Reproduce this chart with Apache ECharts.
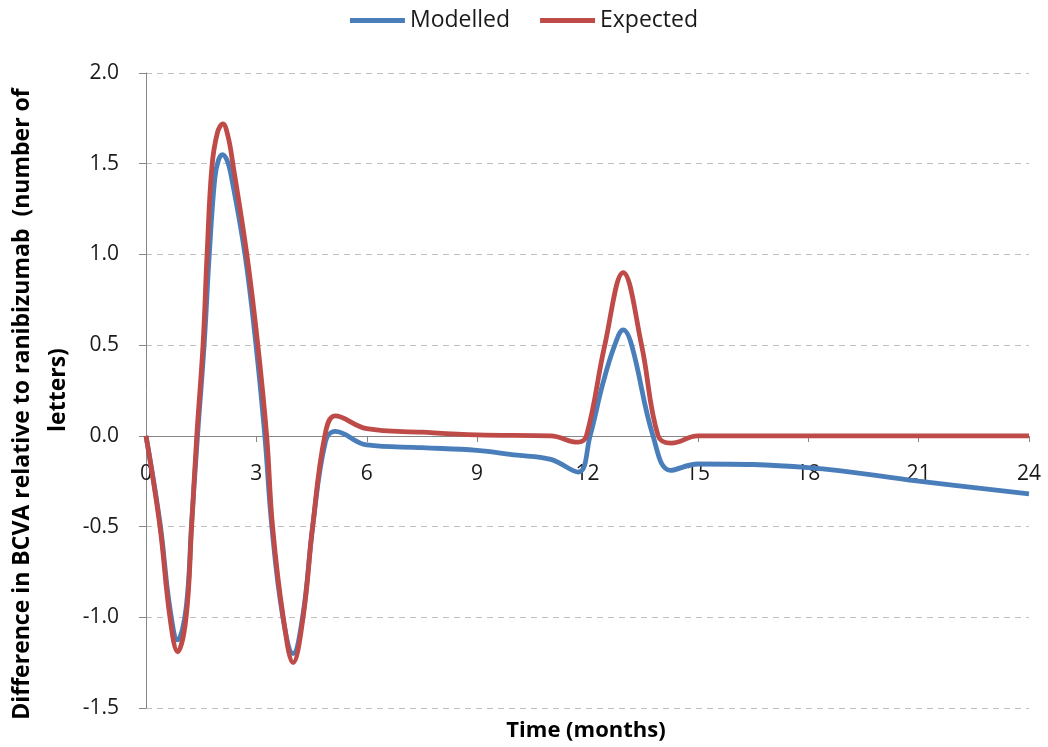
<!DOCTYPE html>
<html>
<head>
<meta charset="utf-8">
<script src="https://cdn.jsdelivr.net/npm/echarts@6/dist/echarts.min.js"></script>
<style>
html,body{margin:0;padding:0;background:#fff;}
#chart{width:1048px;height:747px;}
</style>
</head>
<body>
<div id="chart"></div>
<script>
// Data (months, difference in BCVA letters)
var modelledX = [0, 0.38, 0.65, 0.86, 1.09, 1.24, 1.4, 1.58, 1.72, 1.87, 1.97, 2.08, 2.2, 2.3, 2.69, 2.99, 3.23, 3.42, 3.72, 4.0, 4.27, 4.53, 4.88, 5.14, 6, 7.5, 9, 10, 11, 11.75, 12.07, 12.42, 12.74, 12.97, 13.2, 13.78, 14.25, 15, 18, 21, 24];
var modelledY = [0, -0.48, -0.95, -1.125, -0.95, -0.48, 0, 0.5, 1.0, 1.42, 1.52, 1.55, 1.52, 1.45, 1.0, 0.5, 0, -0.5, -1.0, -1.2, -0.98, -0.5, -0.03, 0.025, -0.05, -0.065, -0.08, -0.105, -0.13, -0.2, 0, 0.29, 0.5, 0.584, 0.5, 0, -0.19, -0.155, -0.175, -0.25, -0.32];
var expectedX = [0, 0.38, 0.65, 0.86, 1.09, 1.24, 1.38, 1.55, 1.66, 1.79, 1.94, 2.09, 2.23, 2.36, 2.74, 3.04, 3.28, 3.44, 3.73, 4.0, 4.27, 4.53, 4.86, 5.14, 6, 7.5, 9, 11, 11.74, 11.97, 12.47, 12.97, 13.47, 13.92, 14.28, 15, 18, 21, 24];
var expectedY = [0, -0.5, -1.0, -1.19, -1.0, -0.5, 0, 0.5, 1.0, 1.48, 1.67, 1.72, 1.65, 1.5, 1.0, 0.5, 0, -0.5, -1.0, -1.25, -1.0, -0.5, 0, 0.11, 0.04, 0.02, 0.005, 0, -0.035, 0, 0.5, 0.9, 0.5, 0, -0.04, 0, 0, 0, 0];
var seriesNames = ['Modelled', 'Expected'];
var xTitle = 'Time (months)';
var yTitle1 = 'Difference in BCVA relative to ranibizumab  (number of';
var yTitle2 = 'letters)';

function pairs(xs, ys) { return xs.map(function (x, i) { return [x, ys[i]]; }); }

var FONT = '"Open Sans", "Noto Sans", sans-serif';
var chart = echarts.init(document.getElementById('chart'));
chart.setOption({
  animation: false,
  color: ['#4a7ebb', '#be4b48'],
  textStyle: { fontFamily: FONT },
  legend: {
    top: 4, left: 'center', itemWidth: 55, itemHeight: 5, itemGap: 30, icon: 'rect',
    textStyle: { fontSize: 23, color: '#1a1a1a', fontFamily: FONT },
    data: seriesNames
  },
  grid: { left: 146, right: 19, top: 73, bottom: 39, containLabel: false },
  xAxis: {
    type: 'value', min: 0, max: 24, interval: 3,
    offset: -272,
    axisLine: { onZero: false, lineStyle: { color: '#868686', width: 1 } },
    axisTick: { show: true, length: 6, lineStyle: { color: '#868686' } },
    axisLabel: { fontSize: 21, color: '#1a1a1a', margin: 28, fontFamily: FONT },
    splitLine: { show: false }
  },
  yAxis: {
    type: 'value', min: -1.5, max: 2.0, interval: 0.5,
    axisLine: { show: true, lineStyle: { color: '#868686', width: 1 } },
    axisTick: { show: true, length: 7, lineStyle: { color: '#868686' } },
    axisLabel: { fontSize: 21, color: '#1a1a1a', margin: 27, fontFamily: FONT,
      formatter: function (v) { return v.toFixed(1); } },
    splitLine: { show: true, lineStyle: { color: '#bfbfbf', type: [6, 5], width: 1 } }
  },
  graphic: [
    { type: 'text', x: 22, y: 404, rotation: Math.PI / 2,
      style: { text: yTitle1, font: 'bold 23px ' + FONT, fill: '#000', align: 'center', verticalAlign: 'middle' } },
    { type: 'text', x: 58, y: 390, rotation: Math.PI / 2,
      style: { text: yTitle2, font: 'bold 23px ' + FONT, fill: '#000', align: 'center', verticalAlign: 'middle' } },
    { type: 'text', x: 586, y: 731,
      style: { text: xTitle, font: 'bold 22px ' + FONT, fill: '#000', align: 'center', verticalAlign: 'middle' } }
  ],
  series: [
    { name: seriesNames[0], type: 'line', data: pairs(modelledX, modelledY), smooth: 0.4,
      showSymbol: false, symbol: 'none', lineStyle: { width: 4.8 }, z: 2 },
    { name: seriesNames[1], type: 'line', data: pairs(expectedX, expectedY), smooth: 0.4,
      showSymbol: false, symbol: 'none', lineStyle: { width: 4.8 }, z: 3 }
  ]
});
</script>
</body>
</html>
